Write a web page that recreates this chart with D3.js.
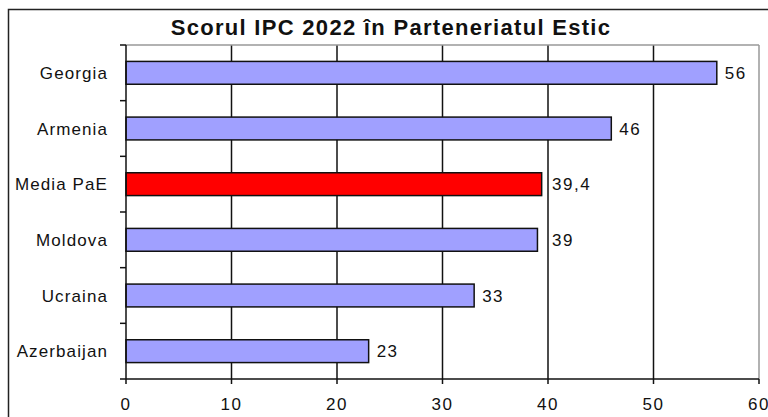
<!DOCTYPE html>
<html>
<head>
<meta charset="utf-8">
<script src="https://cdn.jsdelivr.net/npm/d3@7"></script>
<style>
  body { margin: 0; background: #fff; }
  text { font-family: "Liberation Sans", Arial, sans-serif; }
</style>
</head>
<body>
<div id="chart"></div>
<script>
var countries = ["Georgia", "Armenia", "Media PaE", "Moldova", "Ucraina", "Azerbaijan"];
var scores = [56, 46, 39.4, 39, 33, 23];
var highlight = ["Media PaE"];
var xTicks = [0, 10, 20, 30, 40, 50, 60];

var W = 768, H = 417;
var margin = { top: 45, right: 9, bottom: 38, left: 126 };

var svg = d3.select("#chart").append("svg")
  .attr("width", W)
  .attr("height", H);

// outer frame, runs off the right and bottom edges
svg.append("rect")
  .attr("x", 8.5).attr("y", 9.5)
  .attr("width", 780).attr("height", 430)
  .attr("fill", "none")
  .attr("stroke", "#222")
  .attr("stroke-width", 1.5);

svg.append("text")
  .attr("x", 391)
  .attr("y", 35)
  .attr("text-anchor", "middle")
  .style("font-weight", "bold")
  .style("font-size", "22px")
  .style("letter-spacing", "1.3px")
  .attr("fill", "#111")
  .text("Scorul IPC 2022 în Parteneriatul Estic");

var x = d3.scaleLinear()
  .domain([0, 60])
  .range([margin.left, W - margin.right]);

var y = d3.scaleBand()
  .domain(countries)
  .range([margin.top, H - margin.bottom])
  .paddingInner(0.59)
  .paddingOuter(0.295);

var plotTop = margin.top, plotBottom = H - margin.bottom;

// vertical gridlines
svg.append("g")
  .selectAll("line")
  .data(xTicks.slice(1))
  .enter()
  .append("line")
  .attr("x1", function (d) { return x(d); })
  .attr("x2", function (d) { return x(d); })
  .attr("y1", plotTop)
  .attr("y2", plotBottom)
  .attr("stroke", function (d) { return d === 60 ? "#999" : "#111"; })
  .attr("stroke-width", 1.5);

// top edge of plot area
svg.append("line")
  .attr("x1", x(0)).attr("x2", x(60))
  .attr("y1", plotTop).attr("y2", plotTop)
  .attr("stroke", "#999")
  .attr("stroke-width", 1.5);

// bars
svg.append("g")
  .selectAll("rect")
  .data(countries)
  .enter()
  .append("rect")
  .attr("x", x(0))
  .attr("y", function (d) { return y(d); })
  .attr("width", function (d, i) { return x(scores[i]) - x(0); })
  .attr("height", y.bandwidth())
  .attr("fill", function (d) { return highlight.indexOf(d) >= 0 ? "#ff0000" : "#a0a0ff"; })
  .attr("stroke", "#111")
  .attr("stroke-width", 1.5);

// value labels - push past a gridline if it would sit on it
function labelX(v) {
  var lx = x(v) + 8;
  xTicks.forEach(function (t) {
    var gx = x(t);
    if (gx > x(v) && gx < lx + 4) lx = gx + 4;
  });
  return lx;
}
svg.append("g")
  .selectAll("text")
  .data(countries)
  .enter()
  .append("text")
  .attr("x", function (d, i) { return labelX(scores[i]); })
  .attr("y", function (d) { return y(d) + y.bandwidth() / 2 + 6; })
  .style("font-size", "17px")
  .style("letter-spacing", "1.5px")
  .attr("fill", "#111")
  .text(function (d, i) { return String(scores[i]).replace(".", ","); });

// y axis
var yEdges = d3.scaleLinear().domain([0, countries.length]).range([plotTop, plotBottom]);
var yAxis = svg.append("g");
yAxis.append("line")
  .attr("x1", x(0)).attr("x2", x(0))
  .attr("y1", plotTop).attr("y2", plotBottom)
  .attr("stroke", "#111").attr("stroke-width", 1.5);
yAxis.selectAll(".tk")
  .data(d3.range(countries.length + 1))
  .enter()
  .append("line")
  .attr("x1", x(0) - 6).attr("x2", x(0))
  .attr("y1", function (d) { return yEdges(d); })
  .attr("y2", function (d) { return yEdges(d); })
  .attr("stroke", "#111").attr("stroke-width", 1.5);
yAxis.selectAll("text")
  .data(countries)
  .enter()
  .append("text")
  .attr("x", 108)
  .attr("y", function (d) { return y(d) + y.bandwidth() / 2 + 6; })
  .attr("text-anchor", "end")
  .style("font-size", "17px")
  .style("letter-spacing", "1.1px")
  .attr("fill", "#111")
  .text(function (d) { return d; });

// x axis
var xAxis = svg.append("g");
xAxis.append("line")
  .attr("x1", x(0)).attr("x2", x(60))
  .attr("y1", plotBottom).attr("y2", plotBottom)
  .attr("stroke", "#111").attr("stroke-width", 1.5);
xAxis.selectAll(".tk")
  .data(xTicks)
  .enter()
  .append("line")
  .attr("x1", function (d) { return x(d); })
  .attr("x2", function (d) { return x(d); })
  .attr("y1", plotBottom).attr("y2", plotBottom + 5)
  .attr("stroke", "#111").attr("stroke-width", 1.5);
xAxis.selectAll("text")
  .data(xTicks)
  .enter()
  .append("text")
  .attr("x", function (d) { return x(d); })
  .attr("y", 410)
  .attr("text-anchor", "middle")
  .style("font-size", "17px")
  .style("letter-spacing", "1.5px")
  .attr("fill", "#111")
  .text(function (d) { return d; });
</script>
</body>
</html>
